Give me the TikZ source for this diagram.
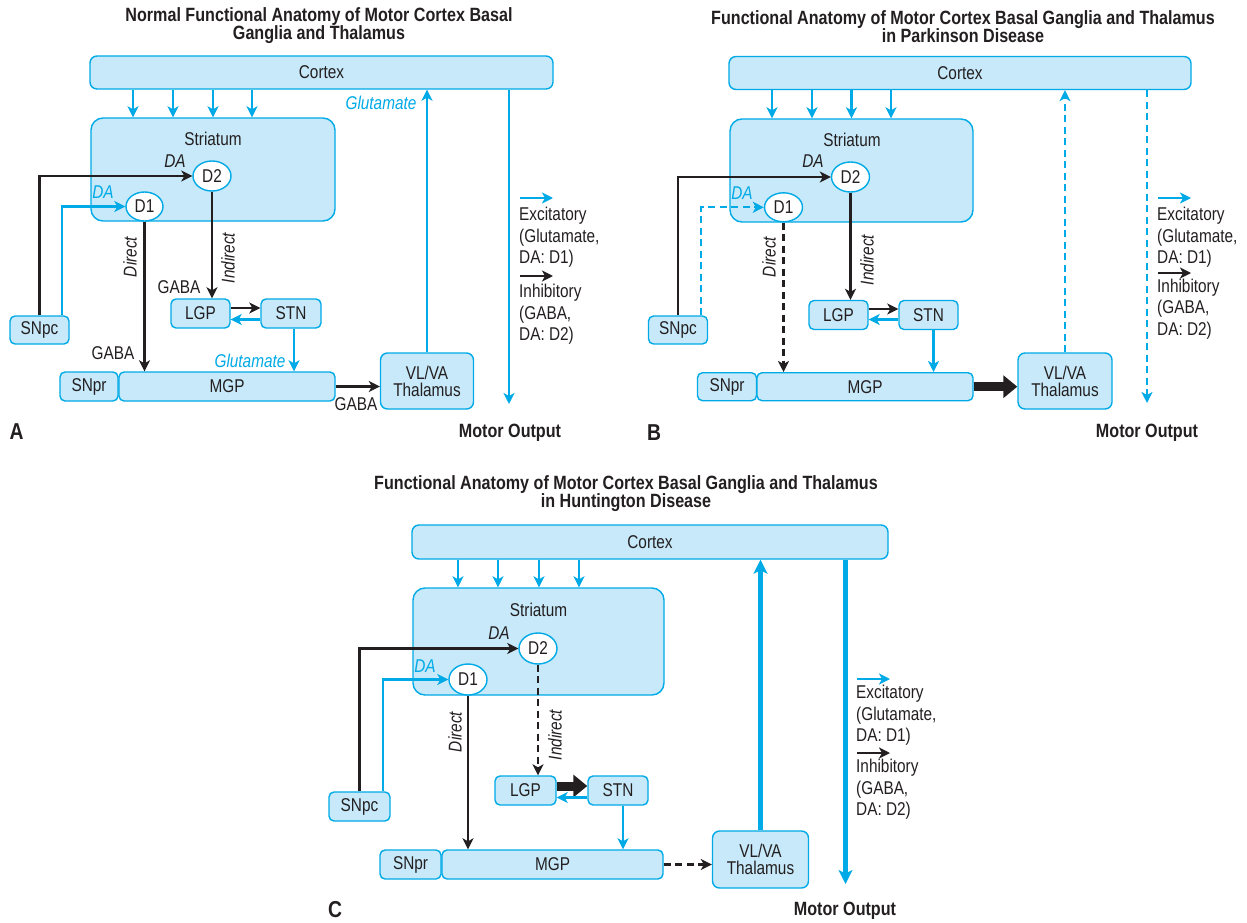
\documentclass[tikz,border=0pt]{standalone}
\usepackage{fontspec}
\setmainfont{Liberation Sans}[FakeStretch=0.83]
\newfontfamily\tfam{Liberation Sans}[FakeStretch=0.84]
\usetikzlibrary{arrows.meta,shapes.geometric}
\definecolor{cyanB}{RGB}{0,170,230}
\definecolor{boxF}{RGB}{199,233,249}
\definecolor{txt}{RGB}{35,31,32}
\newcommand\bodyf{\fontsize{18.5}{18.5}\selectfont}
\newcommand\titlef{\tfam\bfseries\fontsize{19.2}{18}\selectfont}
\newcommand\letf{\tfam\bfseries\fontsize{23}{23}\selectfont}
\newcommand\legf{\fontsize{18.5}{21.5}\selectfont}
\begin{document}
\begin{tikzpicture}[x=1pt,y=-1pt,
 bx/.style={draw=cyanB,fill=boxF,line width=1.4pt,rounded corners=5pt,inner sep=0pt,text=txt,font=\bodyf,align=center},
 sz/.style 2 args={minimum width=#1pt,minimum height=#2pt},
 rc/.style={draw=cyanB,fill=white,ellipse,line width=1.4pt,inner sep=0pt,text=txt,font=\bodyf},
 lbl/.style={text=txt,font=\bodyf,inner sep=0pt},
 ilbl/.style={text=txt,font=\bodyf\itshape,inner sep=0pt},
 blbl/.style={text=cyanB,font=\bodyf\itshape,inner sep=0pt},
 ttl/.style={text=txt,font=\titlef,align=center,inner sep=0pt},
 pl/.style={text=txt,font=\letf,inner sep=0pt},
 leg/.style={text=txt,font=\legf,align=left,anchor=west,inner sep=0pt},
 ba/.style={draw=cyanB,line width=2.3pt,-{Stealth[length=11pt,width=11pt,inset=3pt]}},
 ka/.style={draw=txt,line width=2.3pt,-{Stealth[length=11pt,width=11pt,inset=3pt]}},
 dsh/.style={dash pattern=on 7pt off 4.5pt},
 tkb/.style={draw=cyanB,line width=4.2pt,-{Stealth[length=14pt,width=14pt,inset=3.5pt]}},
 tkk/.style={draw=txt,line width=9pt,-{Triangle[length=14pt,width=22pt]}},
]
\useasboundingbox (0,0) rectangle (1247,923);

% ================= Panel A =================
\node[ttl] (titleA) at (319,26) {Normal Functional Anatomy of Motor Cortex Basal\\Ganglia and Thalamus};
\node[bx,sz={463}{33},rounded corners=7pt] (cortexA) at (321.5,72.5) {Cortex};
\node[bx,sz={244}{103},rounded corners=12pt] (striA) at (213,169.5) {};
\node[lbl] (striAt) at (213,139) {Striatum};
\node[rc,minimum width=38pt,minimum height=30pt] (D2A) at (212,176) {D2};
\node[rc,minimum width=37pt,minimum height=29pt] (D1A) at (144.5,206.5) {D1};
\node[ilbl] (daA2) at (175,161) {DA};
\node[blbl] (daA1) at (103,192) {DA};
\node[bx,sz={59}{28}] (SNpcA) at (39.5,330) {SNpc};
\node[bx,sz={59}{29}] (LGPA) at (200.5,313.5) {LGP};
\node[bx,sz={60}{29}] (STNA) at (291,313.5) {STN};
\node[bx,sz={58}{29}] (SNprA) at (89,386.5) {SNpr};
\node[bx,sz={216}{29}] (MGPA) at (227,386.5) {MGP};
\node[bx,sz={93}{56},rounded corners=7pt,text width=90pt] (ThalA) at (427,381) {VL/VA\\[-1.5pt]Thalamus};
\foreach \x in {133,173,213,252} {
  \coordinate (t) at (\x,0);
  \draw[ba] (t |- cortexA.south) -- (t |- striA.north);
}
\coordinate (snA2) at (62,0);
\draw[ka] (SNpcA.north) |- (D2A.west);
\draw[ba] (snA2 |- SNpcA.north) |- (D1A.west);
\draw[ka] (D1A.south) -- (D1A.south |- MGPA.north);
\draw[ka] (D2A.south) -- (D2A.south |- LGPA.north);
\coordinate (yA1) at (0,308);
\coordinate (yA2) at (0,319.5);
\draw[ka] (LGPA.east |- yA1) -- (STNA.west |- yA1);
\draw[ba] (STNA.west |- yA2) -- (LGPA.east |- yA2);
\coordinate (xA1) at (294,0);
\draw[ba] (xA1 |- STNA.south) -- (xA1 |- MGPA.north);
\draw[ka] (MGPA.east) -- (ThalA.west |- MGPA.east);
\draw[ba] (ThalA.north) -- (ThalA.north |- cortexA.south);
\coordinate (xA2) at (509,0);
\coordinate (motA) at (509,404);
\draw[ba] (xA2 |- cortexA.south) -- (motA);
\node[ilbl,rotate=90] (dirA) at (130,257) {Direct};
\node[ilbl,rotate=90] (indA) at (228,258) {Indirect};
\node[lbl] (gabaA1) at (179,287) {GABA};
\node[lbl] (gabaA2) at (113,353) {GABA};
\node[blbl] (gluA1) at (250,361) {Glutamate};
\node[lbl] (gabaA3) at (356,404) {GABA};
\node[blbl] (gluA2) at (381,103) {Glutamate};
\coordinate (lA1) at (520,198); \coordinate (lA2) at (553,198);
\coordinate (lA3) at (520,276); \coordinate (lA4) at (553,276);
\draw[ba] (lA1) -- (lA2);
\draw[ka] (lA3) -- (lA4);
\node[leg] (exA) at (519,237.5) {Excitatory\\(Glutamate,\\DA: D1)};
\node[leg] (inA) at (519,314.5) {Inhibitory\\(GABA,\\DA: D2)};
\node[ttl] (moA) at (510,433) {Motor Output};
\node[pl] (letA) at (16.5,432) {A};

% ================= Panel B =================
\node[ttl] (titleB) at (963,26.5) {Functional Anatomy of Motor Cortex Basal Ganglia and Thalamus\\in Parkinson Disease};
\node[bx,sz={462}{33},rounded corners=7pt] (cortexB) at (960,73) {Cortex};
\node[bx,sz={243}{103},rounded corners=12pt] (striB) at (851.5,170.5) {};
\node[lbl] (striBt) at (852,140) {Striatum};
\node[rc,minimum width=38pt,minimum height=30pt] (D2B) at (850.5,177) {D2};
\node[rc,minimum width=38pt,minimum height=29pt] (D1B) at (783.5,207.3) {D1};
\node[ilbl] (daB2) at (813,161.5) {DA};
\node[blbl] (daB1) at (742,193) {DA};
\node[bx,sz={59}{28}] (SNpcB) at (678,330) {SNpc};
\node[bx,sz={59}{29}] (LGPB) at (838.5,315) {LGP};
\node[bx,sz={59}{29}] (STNB) at (928.5,315) {STN};
\node[bx,sz={59}{28}] (SNprB) at (727,386.7) {SNpr};
\node[bx,sz={216}{28}] (MGPB) at (865,386.7) {MGP};
\node[bx,sz={94}{56},rounded corners=7pt,text width=90pt] (ThalB) at (1065,381) {VL/VA\\[-1.5pt]Thalamus};
\foreach \x in {772,812,851.5,891} {
  \coordinate (t) at (\x,0);
  \draw[ba] (t |- cortexB.south) -- (t |- striB.north);
}
\coordinate (snB2) at (701,0);
\draw[ka] (SNpcB.north) |- (D2B.west);
\draw[ba,dsh] (snB2 |- SNpcB.north) |- (D1B.west);
\draw[ka,dsh] (D1B.south) -- (D1B.south |- MGPB.north);
\draw[ka] (D2B.south) -- (D2B.south |- LGPB.north);
\coordinate (yB1) at (0,309);
\coordinate (yB2) at (0,319.5);
\draw[ka] (LGPB.east |- yB1) -- (STNB.west |- yB1);
\draw[ba] (STNB.west |- yB2) -- (LGPB.east |- yB2);
\coordinate (xB1) at (933.5,0);
\draw[ba] (xB1 |- STNB.south) -- (xB1 |- MGPB.north);
\draw[tkk] (MGPB.east) -- (ThalB.west |- MGPB.east);
\draw[ba,dsh] (ThalB.north) -- (ThalB.north |- cortexB.south);
\coordinate (xB2) at (1147,0);
\coordinate (motB) at (1147,403);
\draw[ba,dsh] (xB2 |- cortexB.south) -- (motB);
\node[ilbl,rotate=90] (dirB) at (769,257) {Direct};
\node[ilbl,rotate=90] (indB) at (867,260) {Indirect};
\coordinate (lB1) at (1158,198); \coordinate (lB2) at (1191,198);
\coordinate (lB3) at (1158,273); \coordinate (lB4) at (1191,273);
\draw[ba] (lB1) -- (lB2);
\draw[ka] (lB3) -- (lB4);
\node[leg] (exB) at (1157,237.5) {Excitatory\\(Glutamate,\\DA: D1)};
\node[leg] (inB) at (1157,309) {Inhibitory\\(GABA,\\DA: D2)};
\node[ttl] (moB) at (1147,433) {Motor Output};
\node[pl] (letB) at (654,433) {B};

% ================= Panel C =================
\node[ttl] (titleC) at (626,494) {Functional Anatomy of Motor Cortex Basal Ganglia and Thalamus\\in Huntington Disease};
\node[bx,sz={476}{34},rounded corners=7pt] (cortexC) at (650,542) {Cortex};
\node[bx,sz={251}{107},rounded corners=12pt] (striC) at (538.5,641.5) {};
\node[lbl] (striCt) at (538.5,610) {Striatum};
\node[rc,minimum width=38pt,minimum height=31pt] (D2C) at (538,648.5) {D2};
\node[rc,minimum width=38pt,minimum height=31pt] (D1C) at (468,679.5) {D1};
\node[ilbl] (daC2) at (499,633) {DA};
\node[blbl] (daC1) at (425,666) {DA};
\node[bx,sz={61}{29}] (SNpcC) at (359.5,806.5) {SNpc};
\node[bx,sz={61}{29}] (LGPC) at (525.5,790.5) {LGP};
\node[bx,sz={60}{29}] (STNC) at (618,790.5) {STN};
\node[bx,sz={61}{29}] (SNprC) at (410.5,864.5) {SNpr};
\node[bx,sz={221}{29}] (MGPC) at (552.5,864.5) {MGP};
\node[bx,sz={96}{57},rounded corners=7pt,text width=92pt] (ThalC) at (760.5,859.5) {VL/VA\\[-1.5pt]Thalamus};
\foreach \x in {458,498,539,579} {
  \coordinate (t) at (\x,0);
  \draw[ba] (t |- cortexC.south) -- (t |- striC.north);
}
\coordinate (snC2) at (383,0);
\draw[ka] (SNpcC.north) |- (D2C.west);
\draw[ba] (snC2 |- SNpcC.north) |- (D1C.west);
\draw[ka] (D1C.south) -- (D1C.south |- MGPC.north);
\draw[ka,dsh] (D2C.south) -- (D2C.south |- LGPC.north);
\coordinate (yC1) at (0,786);
\coordinate (yC2) at (0,797.5);
\draw[tkk] (LGPC.east |- yC1) -- (STNC.west |- yC1);
\draw[ba] (STNC.west |- yC2) -- (LGPC.east |- yC2);
\coordinate (xC1) at (623,0);
\draw[ba] (xC1 |- STNC.south) -- (xC1 |- MGPC.north);
\draw[ka,dsh] (MGPC.east) -- (ThalC.west |- MGPC.east);
\draw[tkb] (ThalC.north) -- (ThalC.north |- cortexC.south);
\coordinate (xC2) at (845.5,0);
\coordinate (motC) at (845.5,884);
\draw[tkb] (xC2 |- cortexC.south) -- (motC);
\node[ilbl,rotate=90] (dirC) at (455,732) {Direct};
\node[ilbl,rotate=90] (indC) at (555,735) {Indirect};
\coordinate (lC1) at (857,679); \coordinate (lC2) at (890,679);
\coordinate (lC3) at (857,753); \coordinate (lC4) at (890,753);
\draw[ba] (lC1) -- (lC2);
\draw[ka] (lC3) -- (lC4);
\node[leg] (exC) at (856,715.5) {Excitatory\\(Glutamate,\\DA: D1)};
\node[leg] (inC) at (856,789.5) {Inhibitory\\(GABA,\\DA: D2)};
\node[ttl] (moC) at (845,911) {Motor Output};
\node[pl] (letC) at (335,909.5) {C};
\end{tikzpicture}
\end{document}
